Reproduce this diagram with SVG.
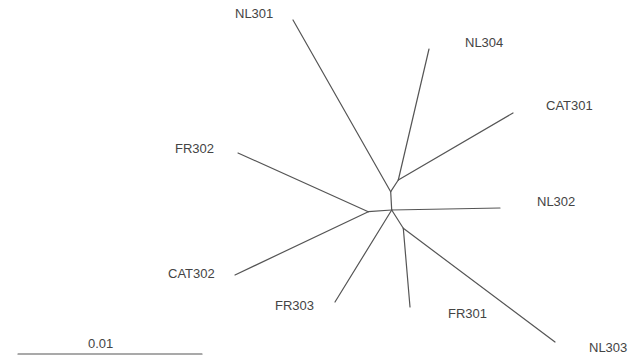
<svg xmlns="http://www.w3.org/2000/svg" width="629" height="358" viewBox="0 0 629 358">
<style>
.e{stroke:#555;stroke-width:1.2;fill:none;stroke-linecap:round}
text{font-family:"Liberation Sans",Arial,sans-serif;font-size:13px;fill:#444}
</style>
<rect width="629" height="358" fill="#fff"/>
<g id="connectors">
<line class="e" x1="390.7" y1="191.7" x2="293" y2="20"/>
<line class="e" x1="390.7" y1="191.7" x2="398.3" y2="180"/>
<line class="e" x1="398.3" y1="180" x2="429" y2="49"/>
<line class="e" x1="398.3" y1="180" x2="513" y2="113"/>
<line class="e" x1="390.7" y1="191.7" x2="391.7" y2="210"/>
<line class="e" x1="391.7" y1="210" x2="500" y2="208"/>
<line class="e" x1="391.7" y1="210" x2="368.3" y2="211.7"/>
<line class="e" x1="368.3" y1="211.7" x2="238" y2="153"/>
<line class="e" x1="368.3" y1="211.7" x2="235" y2="275"/>
<line class="e" x1="391.7" y1="210" x2="335" y2="302"/>
<line class="e" x1="391.7" y1="210" x2="403.3" y2="228.3"/>
<line class="e" x1="403.3" y1="228.3" x2="410" y2="307"/>
<line class="e" x1="403.3" y1="228.3" x2="555" y2="342"/>
<line class="e" x1="18" y1="354" x2="202" y2="354"/>
</g>
<g id="NL301"><text x="235" y="18">NL301</text></g>
<g id="NL304"><text x="465" y="47">NL304</text></g>
<g id="CAT301"><text x="546" y="110">CAT301</text></g>
<g id="FR302"><text x="175" y="153">FR302</text></g>
<g id="NL302"><text x="537" y="206">NL302</text></g>
<g id="CAT302"><text x="168" y="278">CAT302</text></g>
<g id="FR303"><text x="275" y="310">FR303</text></g>
<g id="FR301"><text x="448" y="318">FR301</text></g>
<g id="NL303"><text x="589" y="352">NL303</text></g>
<g id="scale"><text x="88" y="348">0.01</text></g>
</svg>
